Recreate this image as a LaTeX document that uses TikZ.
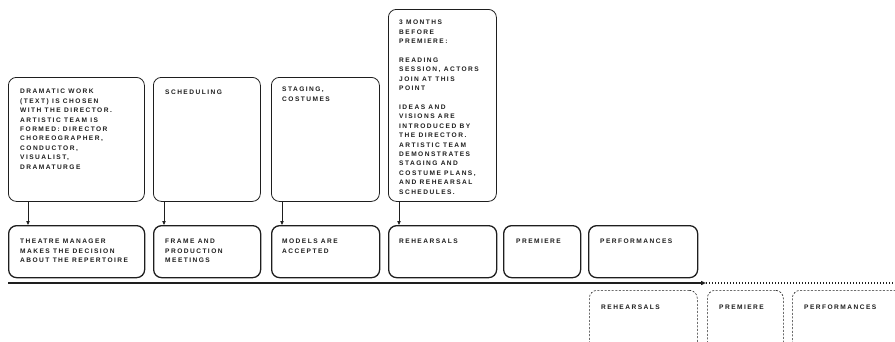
\documentclass[tikz,border=0pt]{standalone}
\usepackage{fontspec}
\newfontfamily\labfont{Liberation Sans}[UprightFont=* Bold, LetterSpace=22]
\usetikzlibrary{arrows.meta}
\definecolor{ink}{HTML}{1E1E1E}
\begin{document}
\begin{tikzpicture}[x=1pt,y=-1pt,
  box/.style={draw=ink, rounded corners=8pt, anchor=north west, inner sep=0pt},
  upper/.style={box, line width=0.8pt},
  lower/.style={box, line width=1.3pt, minimum height=52pt},
  ghost/.style={box, line width=0.6pt, dash pattern=on 2pt off 1.6pt, minimum height=80pt},
  txt/.style={anchor=north west, inner sep=0pt, align=left, text=ink,
    font=\labfont\fontsize{6.6}{9.4}\selectfont},
  link/.style={draw=ink, line width=0.8pt, -{Triangle[length=4pt,width=3.4pt]}}]
\useasboundingbox (0,0) rectangle (895,341);
\clip (0,0) rectangle (895,341);

% upper boxes: preparatory steps
\node[upper, minimum width=136pt, minimum height=124pt] (u1) at (8,77) {};
\node[upper, minimum width=107pt, minimum height=124pt] (u2) at (153,77) {};
\node[upper, minimum width=108pt, minimum height=124pt] (u3) at (271,77) {};
\node[upper, minimum width=108pt, minimum height=192pt] (u4) at (388,9) {};

\node[txt] (t1) at ([shift={(12,12)}]u1.north west)
  {DRAMATIC WORK\\(TEXT) IS CHOSEN\\WITH THE DIRECTOR.\\ARTISTIC TEAM IS\\FORMED: DIRECTOR\\CHOREOGRAPHER,\\CONDUCTOR,\\VISUALIST,\\DRAMATURGE};
\node[txt] (t2) at ([shift={(12,13)}]u2.north west) {SCHEDULING};
\node[txt] (t3) at ([shift={(11,10)}]u3.north west) {STAGING,\\COSTUMES};
\node[txt] (t4) at ([shift={(11,11)}]u4.north west)
  {3 MONTHS\\BEFORE\\PREMIERE:\\[9.4pt]READING\\SESSION, ACTORS\\JOIN AT THIS\\POINT\\[9.4pt]IDEAS AND\\VISIONS ARE\\INTRODUCED BY\\THE DIRECTOR.\\ARTISTIC TEAM\\DEMONSTRATES\\STAGING AND\\COSTUME PLANS,\\AND REHEARSAL\\SCHEDULES.};

% lower boxes: main timeline
\node[lower, minimum width=136pt] (l1) at (8,225) {};
\node[lower, minimum width=107pt] (l2) at (153,225) {};
\node[lower, minimum width=108pt] (l3) at (271,225) {};
\node[lower, minimum width=108pt] (l4) at (388,225) {};
\node[lower, minimum width=77pt] (l5) at (503,225) {};
\node[lower, minimum width=109pt] (l6) at (588,225) {};

\node[txt] (s1) at ([shift={(12,14)}]l1.north west) {THEATRE MANAGER\\MAKES THE DECISION\\ABOUT THE REPERTOIRE};
\node[txt] (s2) at ([shift={(12,14)}]l2.north west) {FRAME AND\\PRODUCTION\\MEETINGS};
\node[txt] (s3) at ([shift={(11,14)}]l3.north west) {MODELS ARE\\ACCEPTED};
\node[txt] (s4) at ([shift={(11,14)}]l4.north west) {REHEARSALS};
\node[txt] (s5) at ([shift={(13,14)}]l5.north west) {PREMIERE};
\node[txt] (s6) at ([shift={(12,14)}]l6.north west) {PERFORMANCES};

% connectors from upper to lower boxes
\draw[link] ([xshift=20pt]u1.south west) -- ([xshift=20pt]l1.north west);
\draw[link] ([xshift=11pt]u2.south west) -- ([xshift=11pt]l2.north west);
\draw[link] ([xshift=11pt]u3.south west) -- ([xshift=11pt]l3.north west);
\draw[link] ([xshift=11pt]u4.south west) -- ([xshift=11pt]l4.north west);

% time axis
\coordinate (a0) at (8,283);
\coordinate (a1) at (706,283);
\coordinate (a2) at (895,283);
\draw[draw=ink, line width=1.3pt, -{Triangle[length=5pt,width=4pt]}] (a0) -- (a1);
\draw[draw=ink, line width=1.3pt, dash pattern=on 1.4pt off 1.6pt] (a1) -- (a2);

% repeated run, continuing past the edge
\node[ghost, minimum width=108pt] (g1) at (589,290) {};
\node[ghost, minimum width=76pt] (g2) at (707,290) {};
\node[ghost, minimum width=115pt] (g3) at (792,290) {};
\node[txt] (h1) at ([shift={(12,15)}]g1.north west) {REHEARSALS};
\node[txt] (h2) at ([shift={(12,15)}]g2.north west) {PREMIERE};
\node[txt] (h3) at ([shift={(12,15)}]g3.north west) {PERFORMANCES};
\end{tikzpicture}
\end{document}
